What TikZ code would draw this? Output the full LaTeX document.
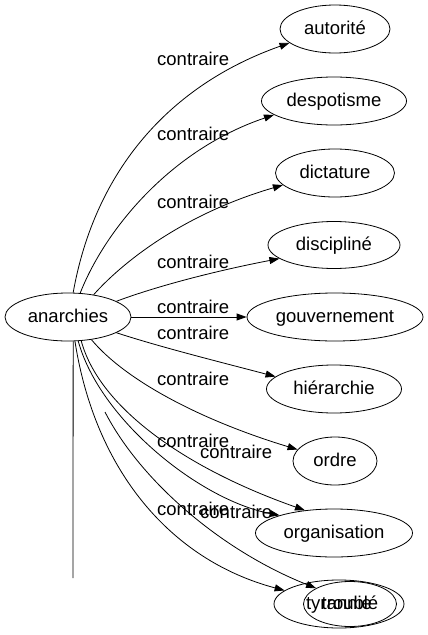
\documentclass[tikz,border=0pt]{standalone}
\usepackage{fontspec}
\setmainfont{Liberation Sans}
\usetikzlibrary{shapes.geometric,arrows.meta}
\begin{document}
\begin{tikzpicture}[x=1pt,y=-1pt,
  nd/.style={draw,ellipse,inner sep=0pt,line width=0.8pt,minimum height=48pt,
    font=\fontsize{18.5}{20}\selectfont,text height=13.5pt,text depth=3.5pt},
  lab/.style={inner sep=0pt,anchor=base west,font=\fontsize{18.5}{20}\selectfont},
  edge/.style={line width=0.8pt,-{Triangle[length=10pt,width=7pt]}},
  plain/.style={line width=0.8pt}]
\useasboundingbox (0,0) rectangle (428,635);
% nodes
\node[nd,minimum width=126pt] (anarchies) at (68,317) {anarchies};
\node[nd,minimum width=110pt] (autorite) at (335,29) {autorité};
\node[nd,minimum width=145pt] (despotisme) at (334,101) {despotisme};
\node[nd,minimum width=119pt] (dictature) at (335,173) {dictature};
\node[nd,minimum width=132pt,minimum height=47pt] (discipline) at (334,245) {discipliné};
\node[nd,minimum width=176pt] (gouvernement) at (335,317) {gouvernement};
\node[nd,minimum width=135pt] (hierarchie) at (334,389) {hiérarchie};
\node[nd,minimum width=84pt] (ordre) at (335,461) {ordre};
\node[nd,minimum width=157pt] (organisation) at (334,533) {organisation};
\node[nd,minimum width=130pt] (tyrannie) at (339,604) {tyrannie};
\node[nd,minimum width=93pt,minimum height=45pt] (trouble) at (350,604) {troublé};
% free ends
\coordinate (vend) at (73,578);
\coordinate (fstart) at (105,412);
% edges
\draw[edge] (anarchies.78) .. controls (95,170) and (170,85) .. (autorite.197);
\draw[edge] (anarchies.63) .. controls (105,230) and (170,150) .. (despotisme.193);
\draw[edge] (anarchies.41) .. controls (120,265) and (180,215) .. (dictature.193);
\draw[edge] (anarchies.18) .. controls (160,285) and (220,270) .. (discipline.194);
\draw[edge] (anarchies.east) -- (gouvernement.west);
\draw[edge] (anarchies.-18) .. controls (160,347) and (220,362) .. (hierarchie.168);
\draw[edge] (anarchies.-44) .. controls (125,380) and (200,420) .. (ordre.163);
\draw[edge] (anarchies.-61) .. controls (100,410) and (190,470) .. (organisation.142);
\draw[edge] (anarchies.-67) .. controls (100,420) and (200,500) .. (organisation.162);
\draw[edge] (fstart) .. controls (140,480) and (220,550) .. (trouble.155);
\draw[edge] (anarchies.-74) .. controls (95,470) and (170,560) .. (tyrannie.166);
\draw[plain] (anarchies.-78) -- (vend);
% labels
\node[lab] (l1) at (157,65) {contraire};
\node[lab] (l2) at (157,140) {contraire};
\node[lab] (l3) at (157,208) {contraire};
\node[lab] (l4) at (157,268) {contraire};
\node[lab] (l5) at (157,313) {contraire};
\node[lab] (l6) at (157,339) {contraire};
\node[lab] (l7) at (157,385) {contraire};
\node[lab] (l8) at (157,447) {contraire};
\node[lab] (l9) at (200,458) {contraire};
\node[lab] (l10) at (157,515) {contraire};
\node[lab] (l11) at (200,518) {contraire};
\end{tikzpicture}
\end{document}
